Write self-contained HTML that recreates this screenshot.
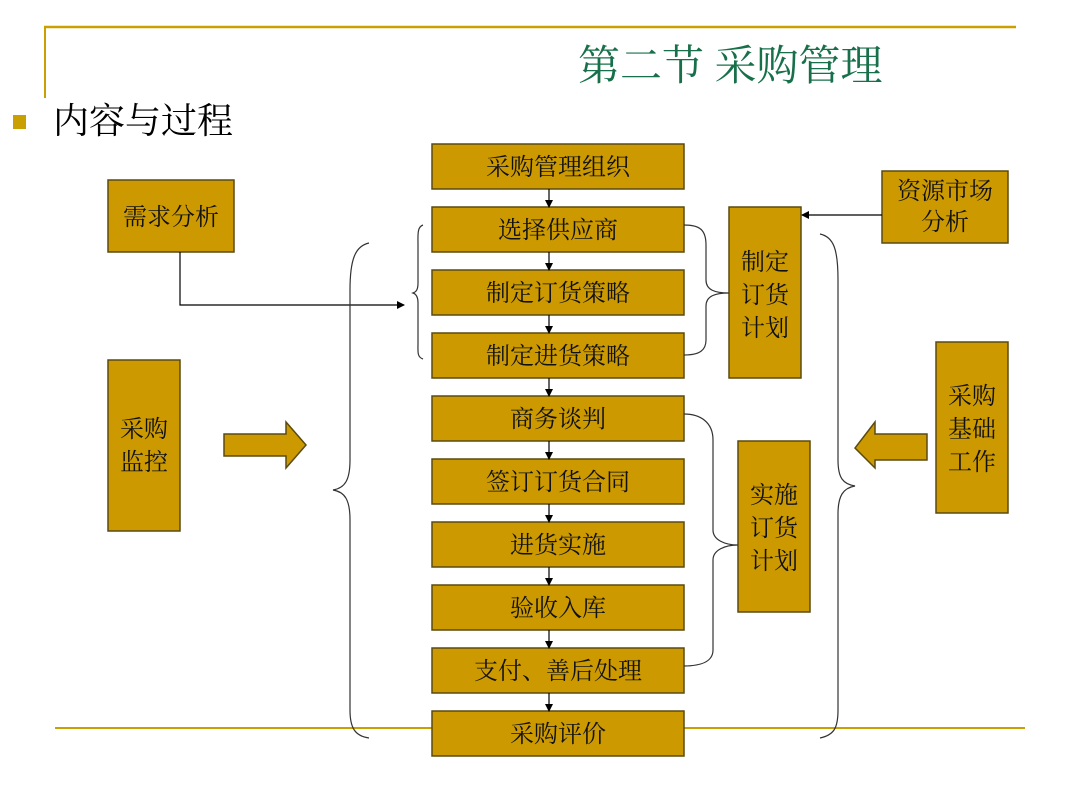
<!DOCTYPE html>
<html><head><meta charset="utf-8"><style>
html,body{margin:0;padding:0;background:#fff;}
svg{display:block;}
text{font-family:"Liberation Serif","Noto Serif CJK SC","Noto Sans CJK SC",serif;}
</style></head><body>
<svg width="1080" height="810" viewBox="0 0 1080 810" xmlns="http://www.w3.org/2000/svg">
<defs><marker id="a" markerWidth="8" markerHeight="8" refX="7" refY="4" orient="auto" markerUnits="userSpaceOnUse"><path d="M0,0 L8,4 L0,8 z" fill="#000"/></marker></defs>
<line x1="44" y1="27" x2="1016" y2="27" stroke="#C9A000" stroke-width="2.5"/>
<line x1="45" y1="27" x2="45" y2="98" stroke="#C9A000" stroke-width="2"/>
<line x1="55" y1="728" x2="1025" y2="728" stroke="#C9A000" stroke-width="2"/>
<text x="578" y="80" font-size="42" fill="#17704A">第二节 采购管理</text>
<rect x="13" y="115" width="13" height="14" fill="#C9A000"/>
<text x="53" y="133" font-size="36" fill="#000">内容与过程</text>
<g fill="#CC9A00" stroke="#5a4a10" stroke-width="1.5">
<rect x="432" y="144" width="252" height="45"/>
<rect x="432" y="207" width="252" height="45"/>
<rect x="432" y="270" width="252" height="45"/>
<rect x="432" y="333" width="252" height="45"/>
<rect x="432" y="396" width="252" height="45"/>
<rect x="432" y="459" width="252" height="45"/>
<rect x="432" y="522" width="252" height="45"/>
<rect x="432" y="585" width="252" height="45"/>
<rect x="432" y="648" width="252" height="45"/>
<rect x="432" y="711" width="252" height="45"/>
<rect x="108" y="180" width="126" height="72"/>
<rect x="108" y="360" width="72" height="171"/>
<rect x="882" y="171" width="126" height="72"/>
<rect x="729" y="207" width="72" height="171"/>
<rect x="738" y="441" width="72" height="171"/>
<rect x="936" y="342" width="72" height="171"/>
<path d="M224,434 H286 V422 L306,445 L286,468 V456 H224 z"/>
<path d="M927,434 H875 V422 L855,448 L875,468 V460 H927 z"/>
</g>
<g font-size="24" fill="#111" text-anchor="middle">
<text x="558" y="175">采购管理组织</text>
<text x="558" y="238">选择供应商</text>
<text x="558" y="301">制定订货策略</text>
<text x="558" y="364">制定进货策略</text>
<text x="558" y="427">商务谈判</text>
<text x="558" y="490">签订订货合同</text>
<text x="558" y="553">进货实施</text>
<text x="558" y="616">验收入库</text>
<text x="558" y="679">支付、善后处理</text>
<text x="558" y="742">采购评价</text>
<text x="171" y="225">需求分析</text>
<text x="144" y="437">采购</text><text x="144" y="470">监控</text>
<text x="945" y="199">资源市场</text><text x="945" y="230">分析</text>
<text x="765" y="270">制定</text><text x="765" y="303">订货</text><text x="765" y="336">计划</text>
<text x="774" y="503">实施</text><text x="774" y="536">订货</text><text x="774" y="569">计划</text>
<text x="972" y="404">采购</text><text x="972" y="437">基础</text><text x="972" y="470">工作</text>
</g>
<g stroke="#000" stroke-width="1.2" fill="none">
<line x1="549" y1="189" x2="549" y2="207" marker-end="url(#a)"/>
<line x1="549" y1="252" x2="549" y2="270" marker-end="url(#a)"/>
<line x1="549" y1="315" x2="549" y2="333" marker-end="url(#a)"/>
<line x1="549" y1="378" x2="549" y2="396" marker-end="url(#a)"/>
<line x1="549" y1="441" x2="549" y2="459" marker-end="url(#a)"/>
<line x1="549" y1="504" x2="549" y2="522" marker-end="url(#a)"/>
<line x1="549" y1="567" x2="549" y2="585" marker-end="url(#a)"/>
<line x1="549" y1="630" x2="549" y2="648" marker-end="url(#a)"/>
<line x1="549" y1="693" x2="549" y2="711" marker-end="url(#a)"/>
<path d="M180,252 V305 H404" marker-end="url(#a)"/>
<line x1="882" y1="215" x2="802" y2="215" marker-end="url(#a)"/>
</g>
<g stroke="#333" stroke-width="1.2" fill="none">
<path d="M369,243 C355,246 350,260 350,290 V460 C350,480 345,488 333,490 C345,492 350,500 350,520 V710 C350,728 355,736 369,738"/>
<path d="M820,234 C834,237 838,250 838,280 V460 C838,478 843,484 855,486 C843,488 838,496 838,514 V710 C838,728 834,735 820,738"/>
<path d="M423,225 C417,227 418,235 418,245 V283 C418,290 416,292 413,293 C416,294 418,297 418,303 V343 C418,352 417,357 423,359"/>
<path d="M684,225 C700,225 706,230 706,245 V280 C706,290 715,293 729,293 C715,293 706,296 706,306 V340 C706,350 700,355 684,355"/>
<path d="M684,414 C700,414 713,422 713,440 V530 C713,540 725,545 738,545 C725,545 713,550 713,560 V650 C713,662 700,666 684,666"/>
</g>
</svg>
</body></html>
